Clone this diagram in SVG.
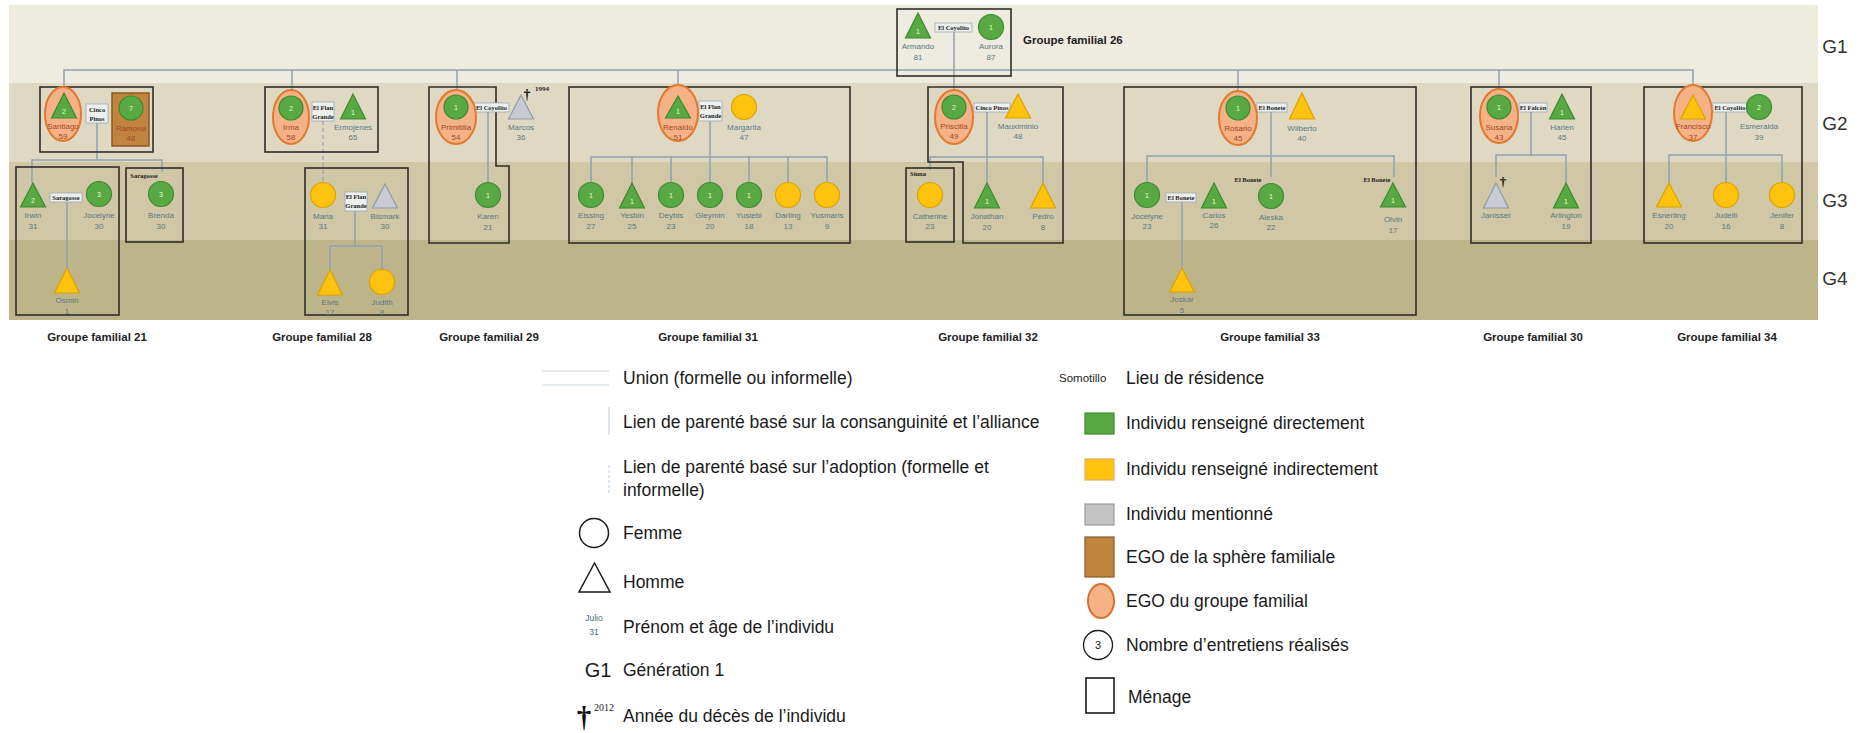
<svg xmlns="http://www.w3.org/2000/svg" width="1863" height="733" viewBox="0 0 1863 733">
<style>
.f{fill:#58a843;stroke:#3f8a2f;stroke-width:1.2}
.y{fill:#ffc20e;stroke:#d9a300;stroke-width:1.2}
.g{fill:#c9cbd3;stroke:#8d9bab;stroke-width:1.2}
.ego{fill:#f5b287;stroke:#e2792f;stroke-width:2}
.br{fill:#c1843f;stroke:#8a5a26;stroke-width:1.5}
.hh{fill:none;stroke:#2e2e2a;stroke-width:1.6}
.ln{fill:none;stroke:#8fa2ad;stroke-width:1.5}
.ad{fill:none;stroke:#9aaab4;stroke-width:1.3;stroke-dasharray:4 3}
.ub{fill:#eef0ee;stroke:#9aabb5;stroke-width:0.8}
.nm{font-family:"Liberation Sans",Arial,sans-serif;font-size:8px;fill:#587a80;text-anchor:middle}
.eg{fill:#a04a26}
.n{font-family:"Liberation Sans",Arial,sans-serif;font-size:7px;fill:#eef6cc;text-anchor:middle}
.ul{font-family:"Liberation Serif","Times New Roman",serif;font-size:6.5px;font-weight:bold;fill:#222;text-anchor:middle}
.gl{font-family:"Liberation Sans",Arial,sans-serif;font-size:11.5px;font-weight:bold;fill:#1e1e1e;text-anchor:middle}
.gen{font-family:"Liberation Sans",Arial,sans-serif;font-size:19px;fill:#333;text-anchor:middle}
.lg{font-family:"Liberation Sans",Arial,sans-serif;font-size:17.5px;fill:#1a1a1a}
.cr{font-family:"Liberation Serif","Times New Roman",serif;font-weight:bold;fill:#111;text-anchor:middle}
</style>
<rect width="1863" height="733" fill="#ffffff"/>
<g id="bands">
<rect x="9" y="5" width="1809" height="78" fill="#eeebdf"/>
<rect x="9" y="83" width="1809" height="79" fill="#dfd9c4"/>
<rect x="9" y="162" width="1809" height="78" fill="#cfc7a6"/>
<rect x="9" y="240" width="1809" height="80" fill="#bdb589"/>
<text class="gen" x="1835" y="53">G1</text>
<text class="gen" x="1835" y="130">G2</text>
<text class="gen" x="1835" y="207">G3</text>
<text class="gen" x="1835" y="285">G4</text>
</g>
<g id="connectors">
<polyline class="ln" points="64,86 64,70 1693,70 1693,85"/>
<line class="ln" x1="292" y1="70" x2="292" y2="90"/>
<line class="ln" x1="457" y1="70" x2="457" y2="90"/>
<line class="ln" x1="678" y1="70" x2="678" y2="85"/>
<line class="ln" x1="954" y1="31" x2="954" y2="90"/>
<line class="ln" x1="1238" y1="70" x2="1238" y2="91"/>
<line class="ln" x1="1499" y1="70" x2="1499" y2="89"/>
<polyline class="ln" points="97,123 97,160"/>
<polyline class="ln" points="32,183 32,160 162,160 162,172"/>
<line class="ln" x1="67" y1="202" x2="67" y2="268"/>
<line class="ad" x1="323" y1="121" x2="323" y2="183"/>
<line class="ln" x1="355" y1="211" x2="355" y2="246"/>
<polyline class="ln" points="330,270 330,246 382,246 382,270"/>
<line class="ln" x1="488" y1="111" x2="488" y2="183"/>
<line class="ln" x1="710" y1="121" x2="710" y2="183"/>
<polyline class="ln" points="591,183 591,157 827,157 827,183"/>
<line class="ln" x1="632" y1="157" x2="632" y2="183"/>
<line class="ln" x1="671" y1="157" x2="671" y2="183"/>
<line class="ln" x1="749" y1="157" x2="749" y2="183"/>
<line class="ln" x1="788" y1="157" x2="788" y2="183"/>
<line class="ln" x1="987" y1="111" x2="987" y2="183"/>
<polyline class="ln" points="930,170 930,157 1043,157 1043,183"/>
<line class="ln" x1="1271" y1="111" x2="1271" y2="177"/>
<polyline class="ln" points="1147,183 1147,156 1394,156 1394,177"/>
<line class="ln" x1="1182" y1="201" x2="1182" y2="268"/>
<line class="ln" x1="1531" y1="111" x2="1531" y2="155"/>
<polyline class="ln" points="1496,177 1496,155 1566,155 1566,183"/>
<line class="ln" x1="1726" y1="111" x2="1726" y2="183"/>
<polyline class="ln" points="1669,183 1669,155 1782,155 1782,183"/>
</g>
<g id="households">
<rect class="hh" x="897" y="9" width="114" height="67"/>
<rect class="hh" x="40" y="87" width="113" height="65"/>
<rect class="hh" x="16" y="167" width="103" height="148"/>
<rect class="hh" x="126" y="168" width="57" height="74"/>
<rect class="hh" x="265" y="87" width="113" height="65"/>
<rect class="hh" x="305" y="168" width="103" height="147"/>
<polygon class="hh" points="429,87 496,87 496,166 509,166 509,243 429,243"/>
<rect class="hh" x="569" y="87" width="281" height="156"/>
<polygon class="hh" points="928,87 1063,87 1063,243 963,243 963,162 928,162"/>
<rect class="hh" x="906" y="168" width="48" height="74"/>
<rect class="hh" x="1124" y="87" width="292" height="228"/>
<rect class="hh" x="1471" y="87" width="120" height="156"/>
<rect class="hh" x="1644" y="87" width="158" height="156"/>
</g>
<g id="unions">
<rect class="ub" x="935" y="23" width="37" height="9"/><text class="ul" x="953.5" y="29.8">El Coyolito</text>
<rect class="ub" x="86" y="104" width="22" height="19"/><text class="ul" x="97" y="112">Cinco</text><text class="ul" x="97" y="120.5">Pinos</text>
<rect class="ub" x="50" y="193" width="32" height="9"/><text class="ul" x="66" y="199.8">Saragosse</text>
<text class="ul" x="144" y="178">Saragosse</text>
<rect class="ub" x="312" y="102" width="22" height="19"/><text class="ul" x="323" y="109.5">El Flan</text><text class="ul" x="323" y="118.5">Grande</text>
<rect class="ub" x="345" y="192" width="22" height="19"/><text class="ul" x="356" y="199">El Flan</text><text class="ul" x="356" y="208">Grande</text>
<rect class="ub" x="474" y="103" width="35" height="9"/><text class="ul" x="491.5" y="109.8">El Coyolito</text>
<rect class="ub" x="699" y="101" width="23" height="20"/><text class="ul" x="710.5" y="108.5">El Flan</text><text class="ul" x="710.5" y="118">Grande</text>
<rect class="ub" x="974" y="103" width="36" height="9"/><text class="ul" x="992" y="109.8">Cinco Pinos</text>
<text class="ul" x="918" y="176">Siuna</text>
<rect class="ub" x="1257" y="103" width="30" height="9"/><text class="ul" x="1272" y="109.8">El Bonete</text>
<rect class="ub" x="1166" y="193" width="30" height="9"/><text class="ul" x="1181" y="199.8">El Bonete</text>
<text class="ul" x="1248" y="182">El Bonete</text>
<text class="ul" x="1377" y="182">El Bonete</text>
<rect class="ub" x="1519" y="103" width="28" height="9"/><text class="ul" x="1533" y="109.8">El Falcón</text>
<rect class="ub" x="1713" y="103" width="34" height="9"/><text class="ul" x="1730" y="109.8">El Coyolito</text>
</g>
<g id="n-armando"><polygon class="f" points="918,13 905.5,38 930.5,38"/><text class="n" x="918" y="34">1</text><text class="nm" x="918" y="49">Armando</text><text class="nm" x="918" y="60">81</text></g>
<g id="n-aurora"><circle class="f" cx="991" cy="27" r="12.5"/><text class="n" x="991" y="29.5">1</text><text class="nm" x="991" y="49">Aurora</text><text class="nm" x="991" y="60">87</text></g>
<g id="n-santiago"><ellipse class="ego" cx="63" cy="114" rx="18" ry="27"/><polygon class="f" points="64,93 51.5,118 76.5,118"/><text class="n" x="64" y="114">2</text><text class="nm eg" x="63" y="129">Santiago</text><text class="nm eg" x="63" y="139">59</text></g>
<g id="n-ramona"><rect class="br" x="112" y="93" width="37" height="53"/><circle class="f" cx="131" cy="108" r="12"/><text class="n" x="131" y="110.5">7</text><text class="nm eg" x="131" y="131">Ramona</text><text class="nm eg" x="131" y="141">48</text></g>
<g id="n-irwin"><polygon class="f" points="33,183 20.5,207 45.5,207"/><text class="n" x="33" y="203">2</text><text class="nm" x="33" y="218">Irwin</text><text class="nm" x="33" y="229">31</text></g>
<g id="n-jocelyne21"><circle class="f" cx="99" cy="194" r="12.5"/><text class="n" x="99" y="196.5">3</text><text class="nm" x="99" y="218">Jocelyne</text><text class="nm" x="99" y="229">30</text></g>
<g id="n-osmin"><polygon class="y" points="67,268 54.5,293 79.5,293"/><text class="nm" x="67" y="303">Osmin</text><text class="nm" x="67" y="314">1</text></g>
<g id="n-brenda"><circle class="f" cx="161" cy="194" r="12.5"/><text class="n" x="161" y="196.5">3</text><text class="nm" x="161" y="218">Brenda</text><text class="nm" x="161" y="229">30</text></g>
<g id="n-irma"><ellipse class="ego" cx="291" cy="117" rx="18" ry="27"/><circle class="f" cx="291" cy="108" r="12"/><text class="n" x="291" y="110.5">2</text><text class="nm eg" x="291" y="130">Irma</text><text class="nm eg" x="291" y="140">58</text></g>
<g id="n-ermojenes"><polygon class="f" points="353,94 340.5,119 365.5,119"/><text class="n" x="353" y="115">1</text><text class="nm" x="353" y="130">Ermojenes</text><text class="nm" x="353" y="140">65</text></g>
<g id="n-maria"><circle class="y" cx="323" cy="195" r="12.5"/><text class="nm" x="323" y="219">Maria</text><text class="nm" x="323" y="229">31</text></g>
<g id="n-bismark"><polygon class="g" points="385,184 372.5,208 397.5,208"/><text class="nm" x="385" y="219">Bismark</text><text class="nm" x="385" y="229">30</text></g>
<g id="n-elvis"><polygon class="y" points="330,270 317.5,295 342.5,295"/><text class="nm" x="330" y="305">Elvis</text><text class="nm" x="330" y="315">17</text></g>
<g id="n-judith"><circle class="y" cx="382" cy="282" r="12.5"/><text class="nm" x="382" y="305">Judith</text><text class="nm" x="382" y="315">8</text></g>
<g id="n-primitilia"><ellipse class="ego" cx="456" cy="117" rx="20" ry="27"/><circle class="f" cx="456" cy="107" r="12"/><text class="n" x="456" y="109.5">1</text><text class="nm eg" x="456" y="130">Primitilia</text><text class="nm eg" x="456" y="140">54</text></g>
<g id="n-marcos"><polygon class="g" points="521,95 508.5,119 533.5,119"/><text class="nm" x="521" y="130">Marcos</text><text class="nm" x="521" y="140">36</text><text class="cr" x="527" y="99" font-size="14">†</text><text class="ul" x="535" y="91" style="text-anchor:start;font-size:7px">1994</text></g>
<g id="n-karen"><circle class="f" cx="488" cy="195" r="12.5"/><text class="n" x="488" y="197.5">1</text><text class="nm" x="488" y="219">Karen</text><text class="nm" x="488" y="230">21</text></g>
<g id="n-renaldo"><ellipse class="ego" cx="678" cy="113" rx="20" ry="28"/><polygon class="f" points="678,96 665.5,118 690.5,118"/><text class="n" x="678" y="114">1</text><text class="nm eg" x="678" y="130">Renaldo</text><text class="nm eg" x="678" y="140">51</text></g>
<g id="n-margarita"><circle class="y" cx="744" cy="107" r="12.5"/><text class="nm" x="744" y="130">Margarita</text><text class="nm" x="744" y="140">47</text></g>
<g id="n-eissing"><circle class="f" cx="591" cy="195" r="12.5"/><text class="n" x="591" y="197.5">1</text><text class="nm" x="591" y="218">Eissing</text><text class="nm" x="591" y="229">27</text></g>
<g id="n-yesbin"><polygon class="f" points="632,183 619.5,208 644.5,208"/><text class="n" x="632" y="204">1</text><text class="nm" x="632" y="218">Yesbin</text><text class="nm" x="632" y="229">25</text></g>
<g id="n-deybis"><circle class="f" cx="671" cy="195" r="12.5"/><text class="n" x="671" y="197.5">1</text><text class="nm" x="671" y="218">Deybis</text><text class="nm" x="671" y="229">23</text></g>
<g id="n-gleymin"><circle class="f" cx="710" cy="195" r="12.5"/><text class="n" x="710" y="197.5">1</text><text class="nm" x="710" y="218">Gleymin</text><text class="nm" x="710" y="229">20</text></g>
<g id="n-yusiebi"><circle class="f" cx="749" cy="195" r="12.5"/><text class="n" x="749" y="197.5">1</text><text class="nm" x="749" y="218">Yusiebi</text><text class="nm" x="749" y="229">18</text></g>
<g id="n-darling"><circle class="y" cx="788" cy="195" r="12.5"/><text class="nm" x="788" y="218">Darling</text><text class="nm" x="788" y="229">13</text></g>
<g id="n-yusmaris"><circle class="y" cx="827" cy="195" r="12.5"/><text class="nm" x="827" y="218">Yusmaris</text><text class="nm" x="827" y="229">9</text></g>
<g id="n-priscilla"><ellipse class="ego" cx="954" cy="117" rx="19" ry="27"/><circle class="f" cx="954" cy="107" r="12"/><text class="n" x="954" y="109.5">2</text><text class="nm eg" x="954" y="129">Priscilla</text><text class="nm eg" x="954" y="139">49</text></g>
<g id="n-mauximinio"><polygon class="y" points="1018,94 1005.5,118 1030.5,118"/><text class="nm" x="1018" y="129">Mauximinio</text><text class="nm" x="1018" y="139">48</text></g>
<g id="n-catherine"><circle class="y" cx="930" cy="195" r="12.5"/><text class="nm" x="930" y="219">Catherine</text><text class="nm" x="930" y="229">23</text></g>
<g id="n-jonathan"><polygon class="f" points="987,183 974.5,208 999.5,208"/><text class="n" x="987" y="204">1</text><text class="nm" x="987" y="219">Jonathan</text><text class="nm" x="987" y="230">20</text></g>
<g id="n-pedro"><polygon class="y" points="1043,183 1030.5,208 1055.5,208"/><text class="nm" x="1043" y="219">Pedro</text><text class="nm" x="1043" y="230">8</text></g>
<g id="n-rosario"><ellipse class="ego" cx="1238" cy="118" rx="19" ry="27"/><circle class="f" cx="1238" cy="108" r="12"/><text class="n" x="1238" y="110.5">1</text><text class="nm eg" x="1238" y="131">Rosario</text><text class="nm eg" x="1238" y="141">45</text></g>
<g id="n-wilberto"><polygon class="y" points="1302,93 1289.5,119 1314.5,119"/><text class="nm" x="1302" y="131">Wilberto</text><text class="nm" x="1302" y="141">40</text></g>
<g id="n-jocelyne33"><circle class="f" cx="1147" cy="195" r="12.5"/><text class="n" x="1147" y="197.5">1</text><text class="nm" x="1147" y="219">Jocelyne</text><text class="nm" x="1147" y="229">23</text></g>
<g id="n-carlos"><polygon class="f" points="1214,183 1201.5,208 1226.5,208"/><text class="n" x="1214" y="204">1</text><text class="nm" x="1214" y="218">Carlos</text><text class="nm" x="1214" y="228">26</text></g>
<g id="n-joskar"><polygon class="y" points="1182,268 1169.5,292 1194.5,292"/><text class="nm" x="1182" y="302">Joskar</text><text class="nm" x="1182" y="313">5</text></g>
<g id="n-aleska"><circle class="f" cx="1271" cy="196" r="12.5"/><text class="n" x="1271" y="198.5">1</text><text class="nm" x="1271" y="220">Aleska</text><text class="nm" x="1271" y="230">22</text></g>
<g id="n-olvin"><polygon class="f" points="1393,183 1380.5,207 1405.5,207"/><text class="n" x="1393" y="203">1</text><text class="nm" x="1393" y="222">Olvin</text><text class="nm" x="1393" y="233">17</text></g>
<g id="n-susana"><ellipse class="ego" cx="1499" cy="116" rx="19" ry="27"/><circle class="f" cx="1499" cy="107" r="12"/><text class="n" x="1499" y="109.5">1</text><text class="nm eg" x="1499" y="130">Susana</text><text class="nm eg" x="1499" y="140">43</text></g>
<g id="n-harlen"><polygon class="f" points="1562,94 1549.5,119 1574.5,119"/><text class="n" x="1562" y="115">1</text><text class="nm" x="1562" y="130">Harlen</text><text class="nm" x="1562" y="140">45</text></g>
<g id="n-janisser"><polygon class="g" points="1496,183 1483.5,208 1508.5,208"/><text class="nm" x="1496" y="218">Janisser</text><text class="cr" x="1503" y="186" font-size="13">†</text></g>
<g id="n-arlington"><polygon class="f" points="1566,183 1553.5,208 1578.5,208"/><text class="n" x="1566" y="204">1</text><text class="nm" x="1566" y="218">Arlington</text><text class="nm" x="1566" y="229">19</text></g>
<g id="n-francisco"><ellipse class="ego" cx="1693" cy="113" rx="19" ry="28"/><polygon class="y" points="1693,95 1680.5,119 1705.5,119"/><text class="nm eg" x="1693" y="129">Francisco</text><text class="nm eg" x="1693" y="140">37</text></g>
<g id="n-esmeralda"><circle class="f" cx="1759" cy="107" r="12.5"/><text class="n" x="1759" y="109.5">2</text><text class="nm" x="1759" y="129">Esmeralda</text><text class="nm" x="1759" y="140">39</text></g>
<g id="n-esnerling"><polygon class="y" points="1669,183 1656.5,207 1681.5,207"/><text class="nm" x="1669" y="218">Esnerling</text><text class="nm" x="1669" y="229">20</text></g>
<g id="n-judelti"><circle class="y" cx="1726" cy="195" r="12.5"/><text class="nm" x="1726" y="218">Judelti</text><text class="nm" x="1726" y="229">16</text></g>
<g id="n-jenifer"><circle class="y" cx="1782" cy="195" r="12.5"/><text class="nm" x="1782" y="218">Jenifer</text><text class="nm" x="1782" y="229">8</text></g>
<g id="group-labels">
<text class="gl" x="1023" y="44" style="text-anchor:start">Groupe familial 26</text>
<text class="gl" x="97" y="341">Groupe familial 21</text>
<text class="gl" x="322" y="341">Groupe familial 28</text>
<text class="gl" x="489" y="341">Groupe familial 29</text>
<text class="gl" x="708" y="341">Groupe familial 31</text>
<text class="gl" x="988" y="341">Groupe familial 32</text>
<text class="gl" x="1270" y="341">Groupe familial 33</text>
<text class="gl" x="1533" y="341">Groupe familial 30</text>
<text class="gl" x="1727" y="341">Groupe familial 34</text>
</g>
<g id="legend">
<line x1="542" y1="371" x2="609" y2="371" stroke="#c9d6dc" stroke-width="1.2"/>
<line x1="542" y1="385" x2="609" y2="385" stroke="#c9d6dc" stroke-width="1.2"/>
<text class="lg" x="623" y="384">Union (formelle ou informelle)</text>
<line x1="609" y1="407" x2="609" y2="435" stroke="#c9d6dc" stroke-width="1.2"/>
<text class="lg" x="623" y="428">Lien de parenté basé sur la consanguinité et l’alliance</text>
<line x1="609" y1="465" x2="609" y2="495" stroke="#c9d6dc" stroke-width="1.2" stroke-dasharray="3 2"/>
<text class="lg" x="623" y="473">Lien de parenté basé sur l’adoption (formelle et</text>
<text class="lg" x="623" y="496">informelle)</text>
<circle cx="594" cy="533" r="14.5" fill="none" stroke="#1a1a1a" stroke-width="1.5"/>
<text class="lg" x="623" y="539">Femme</text>
<polygon points="594.5,563 579,592 610,592" fill="none" stroke="#1a1a1a" stroke-width="1.5"/>
<text class="lg" x="623" y="588">Homme</text>
<text class="nm" x="594" y="621" style="fill:#4c6a7a;font-size:8.5px">Julio</text>
<text class="nm" x="594" y="635" style="fill:#4c6a7a;font-size:8.5px">31</text>
<text class="lg" x="623" y="633">Prénom et âge de l’individu</text>
<text class="gen" x="598" y="677" style="fill:#1a1a1a;font-size:20px">G1</text>
<text class="lg" x="623" y="676">Génération 1</text>
<text class="cr" x="584" y="727" font-size="29">†</text>
<text x="594" y="711" font-family="Liberation Serif, serif" font-size="10" fill="#222">2012</text>
<text class="lg" x="623" y="722">Année du décès de l’individu</text>
<text x="1059" y="382" font-family="Liberation Sans, Arial, sans-serif" font-size="11.5" fill="#222">Somotillo</text>
<text class="lg" x="1126" y="384">Lieu de résidence</text>
<rect x="1085" y="413" width="29" height="21" fill="#58a843" stroke="#3f8a2f" stroke-width="1.2"/>
<text class="lg" x="1126" y="429">Individu renseigné directement</text>
<rect x="1085" y="459" width="29" height="21" fill="#ffc20e" stroke="#e0b060" stroke-width="1.2"/>
<text class="lg" x="1126" y="475">Individu renseigné indirectement</text>
<rect x="1085" y="504" width="29" height="21" fill="#c4c4c4" stroke="#9a9a9a" stroke-width="1.2"/>
<text class="lg" x="1126" y="520">Individu mentionné</text>
<rect x="1085" y="537" width="29" height="40" fill="#c1843f" stroke="#8a5a26" stroke-width="1.2"/>
<text class="lg" x="1126" y="563">EGO de la sphère familiale</text>
<ellipse cx="1101" cy="601" rx="13" ry="17" fill="#f5b287" stroke="#d9702c" stroke-width="2"/>
<text class="lg" x="1126" y="607">EGO du groupe familial</text>
<circle cx="1098" cy="645" r="14.5" fill="none" stroke="#1a1a1a" stroke-width="1.3"/>
<text x="1098" y="649" text-anchor="middle" font-family="Liberation Sans, Arial, sans-serif" font-size="11" fill="#1a1a1a">3</text>
<text class="lg" x="1126" y="651">Nombre d’entretiens réalisés</text>
<rect x="1086" y="678" width="28" height="35" fill="none" stroke="#1a1a1a" stroke-width="1.6"/>
<text class="lg" x="1128" y="703">Ménage</text>
</g>
</svg>
